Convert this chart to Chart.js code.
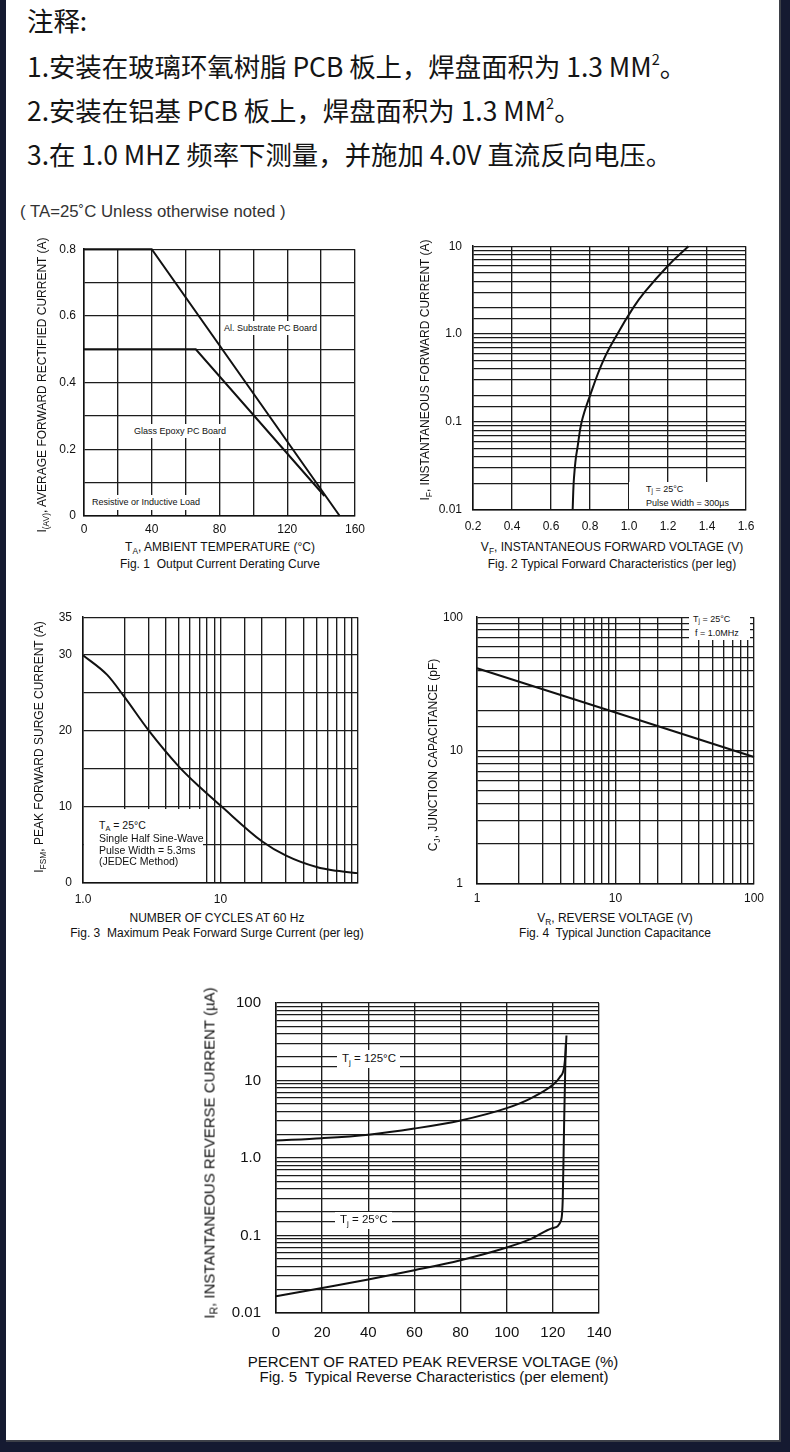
<!DOCTYPE html>
<html>
<head>
<meta charset="utf-8">
<script src="https://cdn.jsdelivr.net/npm/chart.js@4.4.1/dist/chart.umd.min.js"></script>
<style>
  html, body { margin: 0; padding: 0; background: #151a31; width: 790px; height: 1452px; overflow: hidden; }
  #sheet { position: absolute; left: 6px; top: 0; width: 773px; height: 1440px; background: #fff;
           border-right: 2px solid #3d4048; border-bottom: 2px solid #3d4048; }
  .t { position: absolute; white-space: nowrap; font-family: 'Liberation Sans', Arial, sans-serif; color: #111;
       transform: translate(-50%, -50%); line-height: 1; font-size: 12px; }
  .rot { transform: translate(-50%, -50%) rotate(-90deg); }
  .lab { position: absolute; white-space: nowrap; font-family: 'Liberation Sans', Arial, sans-serif; color: #111;
         transform: translateY(-50%); line-height: 1; }
  .note { position: absolute; left: 27px; white-space: nowrap; font-family: 'Noto Sans CJK SC', sans-serif;
          font-size: 26.4px; color: #141414; transform: translateY(-50%); line-height: 1; }
  .box { position: absolute; background: #fff; }
  sub { font-size: 70%; vertical-align: -0.3em; line-height: 0; }
  sup { font-size: 55%; vertical-align: 0.8em; line-height: 0; }
  canvas { position: absolute; }
</style>
</head>
<body>
<div id="sheet"></div>

<div class="note" style="top:20px">注释:</div>
<div class="note" style="top:66px">1.安装在玻璃环氧树脂 PCB 板上，焊盘面积为 1.3 MM<sup>2</sup>。</div>
<div class="note" style="top:110px">2.安装在铝基 PCB 板上，焊盘面积为 1.3 MM<sup>2</sup>。</div>
<div class="note" style="top:154px">3.在 1.0 MHZ 频率下测量，并施加 4.0V 直流反向电压。</div>

<div class="lab" style="left:20px;top:212px;font-size:16.8px;color:#333">( TA=25˚C Unless otherwise noted )</div>

<canvas id="fig1"></canvas>
<canvas id="fig2"></canvas>
<canvas id="fig3"></canvas>
<canvas id="fig4"></canvas>
<canvas id="fig5"></canvas>

<!-- Fig 1 texts -->
<div class="t rot" style="left:42px;top:385px">I<sub>(AV)</sub>, AVERAGE FORWARD RECTIFIED CURRENT (A)</div>
<div class="t" style="left:220px;top:547px">T<sub>A</sub>, AMBIENT TEMPERATURE (°C)</div>
<div class="t" style="left:220px;top:564px">Fig. 1&nbsp; Output Current Derating Curve</div>
<div class="box" style="left:221px;top:321px;width:99px;height:14px"></div>
<div class="lab" style="left:224px;top:328px;font-size:9px">Al. Substrate PC Board</div>
<div class="box" style="left:131px;top:424px;width:98px;height:14px"></div>
<div class="lab" style="left:134px;top:431px;font-size:9px">Glass Epoxy PC Board</div>
<div class="box" style="left:88px;top:495px;width:114px;height:15px"></div>
<div class="lab" style="left:92px;top:502px;font-size:9px">Resistive or Inductive Load</div>

<!-- Fig 2 texts -->
<div class="t rot" style="left:425px;top:370px">I<sub>F</sub>, INSTANTANEOUS FORWARD CURRENT (A)</div>
<div class="t" style="left:612px;top:547px">V<sub>F</sub>, INSTANTANEOUS FORWARD VOLTAGE (V)</div>
<div class="t" style="left:612px;top:564px">Fig. 2 Typical Forward Characteristics (per leg)</div>
<div class="box" style="left:629px;top:482px;width:116px;height:27px"></div>
<div class="lab" style="left:646px;top:489px;font-size:9px">T<sub>j</sub> = 25°C</div>
<div class="lab" style="left:646px;top:503px;font-size:9px">Pulse Width = 300µs</div>

<!-- Fig 3 texts -->
<div class="t rot" style="left:39px;top:747px">I<sub>FSM</sub>, PEAK FORWARD SURGE CURRENT (A)</div>
<div class="t" style="left:217px;top:918px">NUMBER OF CYCLES AT 60 Hz</div>
<div class="t" style="left:217px;top:933px">Fig. 3&nbsp; Maximum Peak Forward Surge Current (per leg)</div>
<div class="box" style="left:84px;top:809px;width:119px;height:73px"></div>
<div class="lab" style="left:99px;top:825px;font-size:10.5px">T<sub>A</sub> = 25°C</div>
<div class="lab" style="left:99px;top:838px;font-size:10.5px">Single Half Sine-Wave</div>
<div class="lab" style="left:99px;top:849.5px;font-size:10.5px">Pulse Width = 5.3ms</div>
<div class="lab" style="left:99px;top:861px;font-size:10.5px">(JEDEC Method)</div>

<!-- Fig 4 texts -->
<div class="t rot" style="left:433px;top:755px">C<sub>J</sub>, JUNCTION CAPACITANCE (pF)</div>
<div class="t" style="left:615px;top:918px">V<sub>R</sub>, REVERSE VOLTAGE (V)</div>
<div class="t" style="left:615px;top:933px">Fig. 4&nbsp; Typical Junction Capacitance</div>
<div class="box" style="left:689px;top:612px;width:61px;height:28px"></div>
<div class="lab" style="left:693px;top:619px;font-size:9px">T<sub>j</sub> = 25°C</div>
<div class="lab" style="left:695px;top:633px;font-size:9px">f = 1.0MHz</div>

<!-- Fig 5 texts -->
<div class="t rot" style="left:209px;top:1153px;font-size:15px">I<sub>R</sub>, INSTANTANEOUS REVERSE CURRENT (µA)</div>
<div class="t" style="left:433px;top:1361px;font-size:15px">PERCENT OF RATED PEAK REVERSE VOLTAGE (%)</div>
<div class="t" style="left:434px;top:1376px;font-size:15px">Fig. 5&nbsp; Typical Reverse Characteristics (per element)</div>
<div class="box" style="left:337px;top:1050px;width:63px;height:18px"></div>
<div class="lab" style="left:342px;top:1059px;font-size:11.5px">T<sub>j</sub> = 125°C</div>
<div class="box" style="left:335px;top:1212px;width:57px;height:17px"></div>
<div class="lab" style="left:340px;top:1220px;font-size:11.5px">T<sub>j</sub> = 25°C</div>

<script>
// Fig. 1 derating curves (°C, A)
var fig1AlTemp = [0, 40, 151];
var fig1AlAmp = [0.8, 0.8, 0];
var fig1GlassTemp = [0, 66, 142];
var fig1GlassAmp = [0.5, 0.5, 0.06];
var fig1XTicks = [0, 40, 80, 120, 160];
var fig1YTicks = [0, 0.2, 0.4, 0.6, 0.8];
var fig1YText = ['0', '0.2', '0.4', '0.6', '0.8'];

// Fig. 2 forward characteristic (V, A)
var fig2Volt = [0.711, 0.716, 0.722, 0.728, 0.735, 0.757, 0.80, 0.868, 0.94, 1.022, 1.08, 1.2, 1.305];
var fig2Amp = [0.01, 0.02, 0.03, 0.04, 0.05, 0.1, 0.2, 0.5, 1.0, 2.0, 3.0, 6.0, 10];
var fig2XTicks = [0.2, 0.4, 0.6, 0.8, 1.0, 1.2, 1.4, 1.6];
var fig2XText = ['0.2', '0.4', '0.6', '0.8', '1.0', '1.2', '1.4', '1.6'];
var fig2YTicks = [0.01, 0.1, 1, 10];
var fig2YText = ['0.01', '0.1', '1.0', '10'];

// Fig. 3 surge current (cycles, A)
var fig3Cycles = [1, 1.5, 2, 3, 5, 7, 10, 20, 30, 50, 70, 100];
var fig3Amp = [30, 27.4, 24.5, 20.1, 15.3, 12.7, 10.2, 5.5, 3.6, 2.1, 1.6, 1.3];
var fig3XTicks = [1, 10];
var fig3XText = ['1.0', '10'];
var fig3YTicks = [0, 10, 20, 30, 35];
var fig3YText = ['0', '10', '20', '30', '35'];

// Fig. 4 junction capacitance (V, pF)
var fig4Volt = [1, 10, 100];
var fig4Cap = [41.4, 19.3, 8.95];
var fig4Ticks = [1, 10, 100];
var fig4Text = ['1', '10', '100'];

// Fig. 5 reverse characteristics (% of VRRM, µA)
var fig5Pct125 = [0, 20, 40, 60, 80, 100, 110, 120, 123, 124.9, 125.6, 125.9];
var fig5Cur125 = [1.68, 1.8, 2.0, 2.4, 3.05, 4.4, 5.8, 8.8, 11, 15, 25, 38];
var fig5Pct25 = [0, 20, 40, 60, 80, 100, 110, 120, 123.6, 124.3, 124.9, 125.6];
var fig5Cur25 = [0.0164, 0.021, 0.027, 0.0356, 0.048, 0.07, 0.089, 0.125, 0.158, 0.3, 3, 30];
var fig5XTicks = [0, 20, 40, 60, 80, 100, 120, 140];
var fig5YTicks = [0.01, 0.1, 1, 10, 100];
var fig5YText = ['0.01', '0.1', '1.0', '10', '100'];

Chart.defaults.font.family = "'Liberation Sans', Arial, sans-serif";
Chart.defaults.color = '#111';

var ink = '#111';
var gridInk = '#1c1c1c';

function pts(xs, ys) {
  return xs.map(function (x, i) { return { x: x, y: ys[i] }; });
}

function labeler(vals, texts) {
  return function (v) {
    for (var i = 0; i < vals.length; i++) {
      var tol = 1e-6 * Math.max(Math.abs(vals[i]), 1e-3);
      if (Math.abs(v - vals[i]) < tol) {
        return texts ? texts[i] : String(vals[i]);
      }
    }
    return '';
  };
}

// place canvas so that the plot area lands on [l, t, r, b]
function place(id, plot, yW, xH, padR, padT) {
  var c = document.getElementById(id);
  var left = plot[0] - yW, top = plot[1] - padT;
  var w = plot[2] - left + padR, h = plot[3] - top + xH;
  c.style.left = left + 'px';
  c.style.top = top + 'px';
  c.width = w;
  c.height = h;
  return c;
}

function axis(o) {
  var a = {
    type: o.type,
    min: o.min,
    max: o.max,
    grid: { color: gridInk, lineWidth: 1.35, drawTicks: false },
    border: { display: true, color: ink, width: 1.5 },
    ticks: {
      autoSkip: false,
      maxRotation: 0,
      minRotation: 0,
      padding: o.pad,
      font: { size: o.size || 12 },
      color: ink,
      callback: o.cb
    }
  };
  if (o.step) {
    a.ticks.stepSize = o.step;
  }
  return a;
}

// mode: 0 straight, 1 bezier, 2 monotone
function curve(data, mode) {
  return {
    data: data,
    showLine: true,
    borderColor: ink,
    borderWidth: 2,
    pointRadius: 0,
    fill: false,
    clip: false,
    tension: mode === 1 ? 0.4 : 0,
    cubicInterpolationMode: mode === 2 ? 'monotone' : 'default'
  };
}

function build(id, plot, yW, xH, padR, padT, datasets, xAxis, yAxis) {
  var c = place(id, plot, yW, xH, padR, padT);
  xAxis.afterFit = function (s) { s.height = xH; };
  yAxis.afterFit = function (s) { s.width = yW; };
  new Chart(c, {
    type: 'scatter',
    data: { datasets: datasets },
    options: {
      responsive: false,
      animation: false,
      events: [],
      layout: { padding: { top: padT, right: padR, left: 0, bottom: 0 } },
      plugins: { legend: { display: false }, tooltip: { enabled: false } },
      scales: { x: xAxis, y: yAxis }
    }
  });
}

// Fig. 1
build('fig1', [84, 244, 355, 516], 54, 20, 20, 10,
  [curve(pts(fig1AlTemp, fig1AlAmp), 0), curve(pts(fig1GlassTemp, fig1GlassAmp), 0)],
  axis({ type: 'linear', min: 0, max: 160, step: 20, pad: 6, cb: labeler(fig1XTicks) }),
  axis({ type: 'linear', min: 0, max: 0.8, step: 0.1, pad: 8, cb: labeler(fig1YTicks, fig1YText) }));

// Fig. 2
build('fig2', [473, 238, 746, 510], 50, 22, 20, 10,
  [curve(pts(fig2Volt, fig2Amp), 1)],
  axis({ type: 'linear', min: 0.2, max: 1.6, step: 0.2, pad: 9, cb: labeler(fig2XTicks, fig2XText) }),
  axis({ type: 'logarithmic', min: 0.01, max: 10, pad: 11, cb: labeler(fig2YTicks, fig2YText) }));

// Fig. 3
build('fig3', [83, 609, 358, 883], 50, 22, 20, 10,
  [curve(pts(fig3Cycles, fig3Amp), 2)],
  axis({ type: 'logarithmic', min: 1, max: 100, pad: 9, cb: labeler(fig3XTicks, fig3XText) }),
  axis({ type: 'linear', min: 0, max: 35, step: 5, pad: 11, cb: labeler(fig3YTicks, fig3YText) }));

// Fig. 4
build('fig4', [477, 606, 754, 884], 50, 22, 20, 10,
  [curve(pts(fig4Volt, fig4Cap), 0)],
  axis({ type: 'logarithmic', min: 1, max: 100, pad: 7, cb: labeler(fig4Ticks, fig4Text) }),
  axis({ type: 'logarithmic', min: 1, max: 100, pad: 14, cb: labeler(fig4Ticks, fig4Text) }));

// Fig. 5
build('fig5', [276, 991, 599, 1313], 70, 30, 25, 12,
  [curve(pts(fig5Pct125, fig5Cur125), 2), curve(pts(fig5Pct25, fig5Cur25), 2)],
  axis({ type: 'linear', min: 0, max: 140, step: 20, pad: 11, size: 15, cb: labeler(fig5XTicks) }),
  axis({ type: 'logarithmic', min: 0.01, max: 100, pad: 15, size: 15, cb: labeler(fig5YTicks, fig5YText) }));
</script>
</body>
</html>
